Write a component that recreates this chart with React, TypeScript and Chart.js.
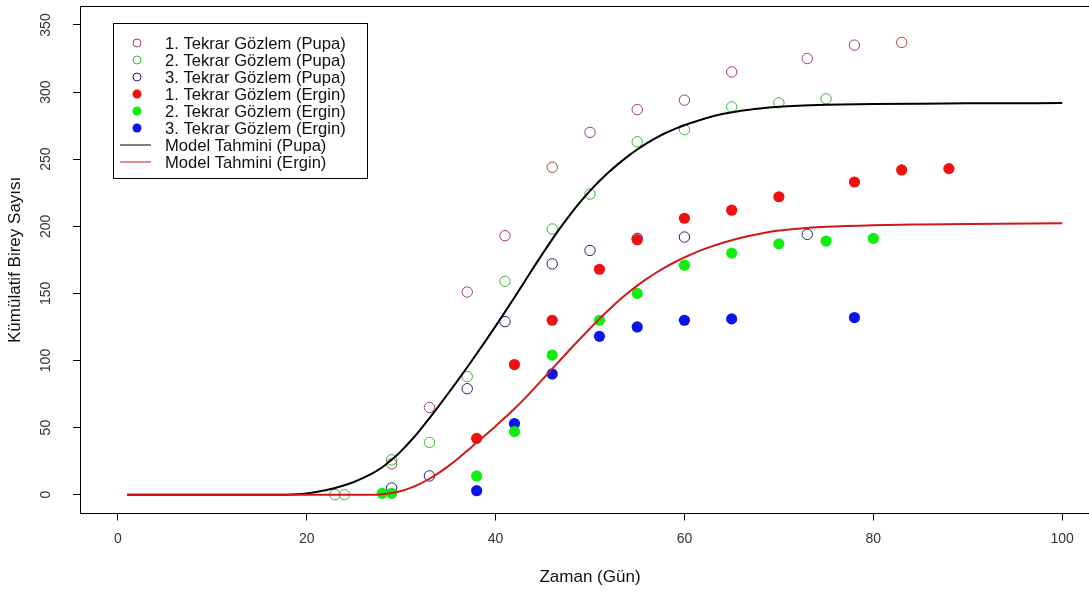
import React, { useEffect, useRef } from "react";
import { Chart, registerables } from "chart.js";

Chart.register(...registerables);

const X_TICKS = [0, 20, 40, 60, 80, 100];
const Y_TICKS = [0, 50, 100, 150, 200, 250, 300, 350];

const PUPA1_X = [29, 33, 37, 41, 46, 50, 55, 60, 65, 73, 78, 83];
const PUPA1_Y = [23, 65, 151, 193, 244, 270, 287, 294, 315, 325, 335, 337];
const PUPA2_X = [23, 24, 29, 33, 37, 41, 46, 50, 55, 60, 65, 70, 75];
const PUPA2_Y = [0, 0, 26, 39, 88, 159, 198, 224, 263, 272, 289, 292, 295];
const PUPA3_X = [29, 33, 37, 41, 46, 50, 55, 60, 73];
const PUPA3_Y = [5, 14, 79, 129, 172, 182, 191, 192, 194];
const ERGIN1_X = [38, 42, 46, 51, 55, 60, 65, 70, 78, 83, 88];
const ERGIN1_Y = [42, 97, 130, 168, 190, 206, 212, 222, 233, 242, 243];
const ERGIN2_X = [28, 29, 38, 42, 46, 51, 55, 60, 65, 70, 75, 80];
const ERGIN2_Y = [1, 1, 14, 47, 104, 130, 150, 171, 180, 187, 189, 191];
const ERGIN3_X = [38, 42, 46, 51, 55, 60, 65, 78];
const ERGIN3_Y = [3, 53, 90, 118, 125, 130, 131, 132];

const MODEL_X = [1, 18, 19, 20, 21, 22, 23, 24, 25, 26, 27, 28, 29, 30, 31, 32, 33, 34, 35, 36, 37, 38, 39, 40, 41, 42, 43, 44, 45, 46, 47, 48, 49, 50, 51, 52, 53, 54, 55, 56, 57, 58, 59, 60, 62, 64, 66, 68, 70, 72, 75, 80, 85, 90, 100];
const MODEL_PUPA = [0, 0, 0.3, 1, 2, 3.3, 5, 7, 9.5, 12.5, 16, 20.5, 26, 32.5, 40, 48.2, 57, 66.2, 75.6, 85.2, 95, 105, 115.2, 125.6, 136.2, 147, 158, 169, 179.8, 190.3, 200.3, 209.7, 218.4, 226.4, 233.7, 240.4, 246.5, 252.1, 257.2, 261.8, 265.9, 269.5, 272.6, 275.3, 280, 283.6, 286.1, 287.8, 289, 289.8, 290.5, 291.1, 291.4, 291.6, 291.8];
const MODEL_ERGIN = [0, 0, 0, 0, 0, 0, 0, 0, 0, 0, 0, 0.4, 1.2, 2.8, 5.1, 8.1, 11.9, 16.3, 21.3, 26.8, 32.7, 38.9, 44.9, 51.1, 57.5, 64, 71, 78.5, 86.1, 93.8, 101.5, 109.1, 116.6, 123.9, 131, 137.8, 144.3, 150.3, 155.8, 160.8, 165.4, 169.6, 173.4, 176.8, 182.8, 187.6, 191.5, 194.5, 196.8, 198.2, 199.6, 200.8, 201.4, 201.8, 202.3];

const LEGEND_LABELS = [
  "1. Tekrar Gözlem (Pupa)",
  "2. Tekrar Gözlem (Pupa)",
  "3. Tekrar Gözlem (Pupa)",
  "1. Tekrar Gözlem (Ergin)",
  "2. Tekrar Gözlem (Ergin)",
  "3. Tekrar Gözlem (Ergin)",
  "Model Tahmini (Pupa)",
  "Model Tahmini (Ergin)",
];

const X_TITLE = "Zaman (Gün)";
const Y_TITLE = "Kümülatif Birey Sayısı";

const C_PUPA1 = "#a0434c";
const C_PUPA2 = "#3cb43c";
const C_PUPA3 = "#22227a";
const C_ERG1 = "#f01010";
const C_ERG2 = "#10ee10";
const C_ERG3 = "#0a14ee";
const C_LINE_P = "#000000";
const C_LINE_E = "#d01818";

const FONT = "'Liberation Sans', Arial, sans-serif";

const pts = (xs: number[], ys: number[]) => xs.map((x, i) => ({ x, y: ys[i] }));

const rPlugin = {
  id: "rstyle",
  afterDraw(chart: any) {
    const ctx = chart.ctx;
    const a = chart.chartArea;
    const ys = chart.scales.y;
    ctx.save();
    ctx.strokeStyle = "#000";
    ctx.lineWidth = 1;
    ctx.strokeRect(Math.round(a.left) + 0.5, Math.round(a.top) + 0.5, Math.round(a.right - a.left), Math.round(a.bottom - a.top));

    // y tick labels (rotated as in R)
    ctx.fillStyle = "#333";
    ctx.font = `14px ${FONT}`;
    ctx.textAlign = "center";
    ctx.textBaseline = "middle";
    Y_TICKS.forEach((v) => {
      const py = ys.getPixelForValue(v);
      ctx.save();
      ctx.translate(46, py);
      ctx.rotate(-Math.PI / 2);
      ctx.fillText(String(v), 0, 0);
      ctx.restore();
    });

    // axis titles
    ctx.fillStyle = "#111";
    ctx.font = `17px ${FONT}`;
    ctx.save();
    ctx.translate(15, (a.top + a.bottom) / 2);
    ctx.rotate(-Math.PI / 2);
    ctx.fillText(Y_TITLE, 0, 0);
    ctx.restore();
    ctx.fillText(X_TITLE, (a.left + a.right) / 2, 577);

    // legend
    const bx = 113.5, by = 23.5, bw = 254, bh = 155;
    ctx.fillStyle = "#fff";
    ctx.fillRect(bx, by, bw, bh);
    ctx.strokeStyle = "#000";
    ctx.lineWidth = 1;
    ctx.strokeRect(bx, by, bw, bh);
    ctx.font = `16.6px ${FONT}`;
    ctx.textAlign = "left";
    ctx.textBaseline = "middle";
    const symCols = [C_PUPA1, C_PUPA2, C_PUPA3, C_ERG1, C_ERG2, C_ERG3, C_LINE_P, C_LINE_E];
    LEGEND_LABELS.forEach((lab, i) => {
      const yy = 43 + i * 17;
      const col = symCols[i];
      if (i < 3) {
        ctx.beginPath();
        ctx.arc(137, yy, 4, 0, Math.PI * 2);
        ctx.strokeStyle = col;
        ctx.lineWidth = 1;
        ctx.stroke();
      } else if (i < 6) {
        ctx.beginPath();
        ctx.arc(137, yy, 4.5, 0, Math.PI * 2);
        ctx.fillStyle = col;
        ctx.fill();
      } else {
        ctx.beginPath();
        ctx.moveTo(120, yy);
        ctx.lineTo(151, yy);
        ctx.strokeStyle = col;
        ctx.lineWidth = 1;
        ctx.stroke();
      }
      ctx.fillStyle = "#111";
      ctx.fillText(lab, 165, yy + 1);
    });
    ctx.restore();
  },
};

export default function App() {
  const ref = useRef<HTMLCanvasElement | null>(null);
  useEffect(() => {
    if (!ref.current) return;
    const openPt = (label: string, xs: number[], ys: number[], col: string) => ({
      type: "scatter" as const,
      label,
      data: pts(xs, ys),
      pointRadius: 5.2,
      pointBorderWidth: 1,
      pointBorderColor: col,
      pointBackgroundColor: "rgba(0,0,0,0)",
      showLine: false,
      order: 3,
    });
    const filledPt = (label: string, xs: number[], ys: number[], col: string) => ({
      type: "scatter" as const,
      label,
      data: pts(xs, ys),
      pointRadius: 5.6,
      pointBorderWidth: 0,
      pointBorderColor: col,
      pointBackgroundColor: col,
      showLine: false,
      order: 2,
    });
    const chart = new Chart(ref.current, {
      type: "scatter",
      data: {
        datasets: [
          openPt(LEGEND_LABELS[0], PUPA1_X, PUPA1_Y, C_PUPA1),
          openPt(LEGEND_LABELS[1], PUPA2_X, PUPA2_Y, C_PUPA2),
          openPt(LEGEND_LABELS[2], PUPA3_X, PUPA3_Y, C_PUPA3),
          filledPt(LEGEND_LABELS[3], ERGIN1_X, ERGIN1_Y, C_ERG1),
          filledPt(LEGEND_LABELS[4], ERGIN2_X, ERGIN2_Y, C_ERG2),
          filledPt(LEGEND_LABELS[5], ERGIN3_X, ERGIN3_Y, C_ERG3),
          {
            type: "scatter" as const,
            label: LEGEND_LABELS[6],
            data: pts(MODEL_X, MODEL_PUPA),
            showLine: true,
            borderColor: C_LINE_P,
            borderWidth: 2,
            pointRadius: 0,
            cubicInterpolationMode: "monotone",
            fill: false,
            order: 1,
          },
          {
            type: "scatter" as const,
            label: LEGEND_LABELS[7],
            data: pts(MODEL_X, MODEL_ERGIN),
            showLine: true,
            borderColor: C_LINE_E,
            borderWidth: 2,
            pointRadius: 0,
            cubicInterpolationMode: "monotone",
            fill: false,
            order: 0,
          },
        ] as any,
      },
      options: {
        animation: false,
        responsive: false,
        maintainAspectRatio: false,
        layout: { padding: { top: 3.6, right: 10, left: 0, bottom: 0 } },
        plugins: { legend: { display: false }, tooltip: { enabled: false } },
        scales: {
          x: {
            type: "linear",
            min: -4,
            max: 104,
            afterBuildTicks: (s: any) => {
              s.ticks = X_TICKS.map((v) => ({ value: v }));
            },
            afterFit: (s: any) => {
              s.height = 80.5;
            },
            grid: { drawOnChartArea: false, drawTicks: true, tickLength: 7, color: "#000", tickColor: "#000" },
            border: { display: false },
            ticks: { font: { family: FONT, size: 14 }, color: "#333", padding: 10, maxRotation: 0, minRotation: 0, autoSkip: false },
          },
          y: {
            type: "linear",
            min: -14,
            max: 364,
            afterBuildTicks: (s: any) => {
              s.ticks = Y_TICKS.map((v) => ({ value: v }));
            },
            afterFit: (s: any) => {
              s.width = 80;
            },
            grid: { drawOnChartArea: false, drawTicks: true, tickLength: 7, color: "#000", tickColor: "#000" },
            border: { display: false },
            ticks: { display: false },
          },
        },
      } as any,
      plugins: [rPlugin],
    });
    return () => chart.destroy();
  }, []);
  return (
    <div style={{ position: "fixed", left: 0, top: 0, width: 1089, height: 594, overflow: "hidden", background: "#fff" }}>
      <canvas ref={ref} width={1110} height={594} style={{ display: "block", width: 1110, height: 594 }} />
    </div>
  );
}
